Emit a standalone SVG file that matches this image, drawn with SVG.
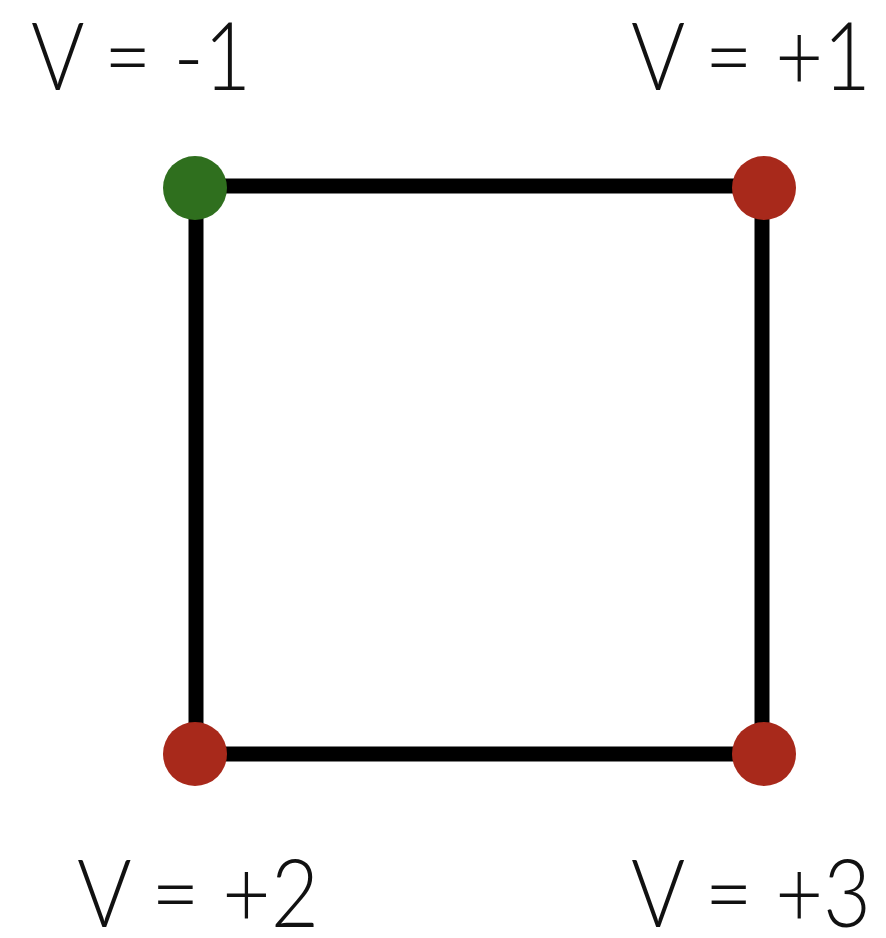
<svg xmlns="http://www.w3.org/2000/svg" width="886" height="938" viewBox="0 0 886 938">
<style>
.lbl{font-family:Lato,"Open Sans","Liberation Sans",sans-serif;font-weight:300;font-size:95px;fill:#111;}
.edge{stroke:#000;stroke-width:15;fill:none;}
.red{fill:#a8291b;}
.green{fill:#2f6f1e;}
</style>
<rect width="886" height="938" fill="#fff"/>
<g id="connectors">
<line class="edge" x1="196" y1="186" x2="762" y2="186"/>
<line class="edge" x1="762" y1="186" x2="762" y2="754"/>
<line class="edge" x1="762" y1="754" x2="196" y2="754"/>
<line class="edge" x1="196" y1="754" x2="196" y2="186"/>
</g>
<g id="n1"><circle class="green" cx="195" cy="188" r="32"/><text class="lbl" x="31" y="90" textLength="220" lengthAdjust="spacingAndGlyphs">V = -1</text></g>
<g id="n2"><circle class="red" cx="764" cy="188" r="32"/><text class="lbl" x="631" y="90" textLength="240" lengthAdjust="spacingAndGlyphs">V = +1</text></g>
<g id="n3"><circle class="red" cx="195" cy="754" r="32"/><text class="lbl" x="77" y="927" textLength="242" lengthAdjust="spacingAndGlyphs">V = +2</text></g>
<g id="n4"><circle class="red" cx="764" cy="754" r="32"/><text class="lbl" x="631" y="927" textLength="240" lengthAdjust="spacingAndGlyphs">V = +3</text></g>
</svg>
